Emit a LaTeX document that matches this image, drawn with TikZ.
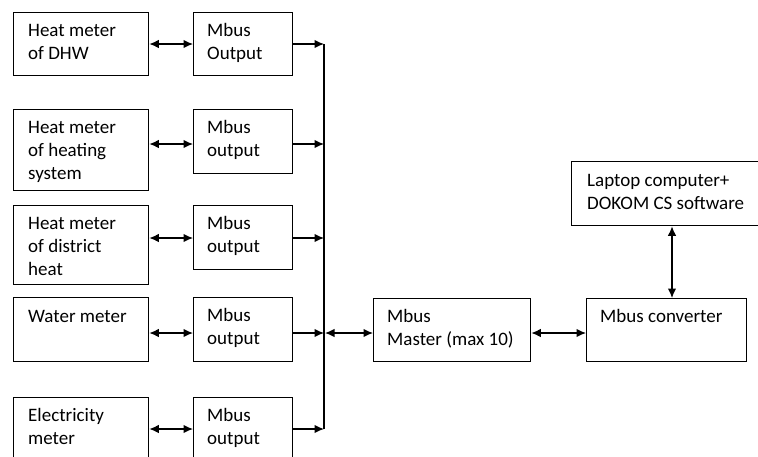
\documentclass[tikz,border=0pt]{standalone}
\usepackage{fontspec}
\setmainfont{Carlito}
\usetikzlibrary{arrows.meta,calc}
\tikzset{
  box/.style={draw=black, line width=1.3pt, inner sep=0pt, anchor=north west, fill=none},
  txt/.style={anchor=base west, align=left, inner sep=0pt, font=\fontsize{19}{23}\selectfont},
  conn/.style={line width=1.3pt, -{Latex[length=9.5pt,width=8.5pt]}},
  dbl/.style={line width=1.3pt, {Latex[length=9.5pt,width=8.5pt]}-{Latex[length=9.5pt,width=8.5pt]}}
}
\begin{document}
\begin{tikzpicture}[x=1pt,y=-1pt]
\useasboundingbox (0,0) rectangle (758,456);
\clip (0,0) rectangle (758,456);
% device boxes
\node[box, minimum width=135pt, minimum height=63pt] (d1) at (13,12) {};
\node[box, minimum width=135pt, minimum height=81pt] (d2) at (13,109) {};
\node[box, minimum width=135pt, minimum height=79pt] (d3) at (13,205) {};
\node[box, minimum width=135pt, minimum height=64pt] (d4) at (13,297) {};
\node[box, minimum width=135pt, minimum height=80pt] (d5) at (13,397) {};
% mbus output boxes
\node[box, minimum width=99pt, minimum height=63pt] (m1) at (193,12) {};
\node[box, minimum width=99pt, minimum height=64pt] (m2) at (193,109) {};
\node[box, minimum width=99pt, minimum height=64pt] (m3) at (193,205) {};
\node[box, minimum width=99pt, minimum height=64pt] (m4) at (193,297) {};
\node[box, minimum width=99pt, minimum height=80pt] (m5) at (193,397) {};
% master, converter, laptop
\node[box, minimum width=157pt, minimum height=63pt] (ms) at (373,298) {};
\node[box, minimum width=160pt, minimum height=63pt] (cv) at (586,298) {};
\node[box, minimum width=200pt, minimum height=64pt] (lp) at (571,161) {};
% texts (base = baseline of last line)
\node[txt] (t1) at ($(d1.north west)+(15,47)$) {Heat meter\\of DHW};
\node[txt] (t2) at ($(d2.north west)+(15,70)$) {Heat meter\\of heating\\system};
\node[txt] (t3) at ($(d3.north west)+(15,70)$) {Heat meter\\of district\\heat};
\node[txt] (t4) at ($(d4.north west)+(15,25)$) {Water meter};
\node[txt] (t5) at ($(d5.north west)+(15,47)$) {Electricity\\meter};
\node[txt] (u1) at ($(m1.north west)+(14,47)$) {Mbus\\Output};
\node[txt] (u2) at ($(m2.north west)+(14,47)$) {Mbus\\output};
\node[txt] (u3) at ($(m3.north west)+(14,47)$) {Mbus\\output};
\node[txt] (u4) at ($(m4.north west)+(14,47)$) {Mbus\\output};
\node[txt] (u5) at ($(m5.north west)+(14,47)$) {Mbus\\output};
\node[txt] (tm) at ($(ms.north west)+(14,47)$) {Mbus\\Master (max 10)};
\node[txt] (tc) at ($(cv.north west)+(14,24)$) {Mbus converter};
\node[txt] (tl) at ($(lp.north west)+(16,48)$) {Laptop computer+\\DOKOM CS software};
% bus
\coordinate (bt) at (324,44);
\coordinate (bb) at (324,429);
\draw[line width=1.3pt] (bt) -- (bb);
% device <-> mbus output
\draw[dbl] (d1.east |- 0,44) -- (m1.west |- 0,44);
\draw[dbl] (d2.east |- 0,144) -- (m2.west |- 0,144);
\draw[dbl] (d3.east |- 0,238) -- (m3.west |- 0,238);
\draw[dbl] (d4.east |- 0,333) -- (m4.west |- 0,333);
\draw[dbl] (d5.east |- 0,429) -- (m5.west |- 0,429);
% mbus output -> bus
\draw[conn] (m1.east |- 0,44) -- (bt |- 0,44);
\draw[conn] (m2.east |- 0,144) -- (bt |- 0,144);
\draw[conn] (m3.east |- 0,238) -- (bt |- 0,238);
\draw[conn] (m4.east |- 0,333) -- (bt |- 0,333);
\draw[conn] (m5.east |- 0,429) -- (bt |- 0,429);
% bus <-> master <-> converter <-> laptop
\draw[dbl] ($(bt |- 0,333)+(1,0)$) -- (ms.west |- 0,333);
\draw[dbl] (ms.east |- 0,333) -- (cv.west |- 0,333);
\draw[dbl] (lp.south -| 672,0) -- (cv.north -| 672,0);
\end{tikzpicture}
\end{document}
